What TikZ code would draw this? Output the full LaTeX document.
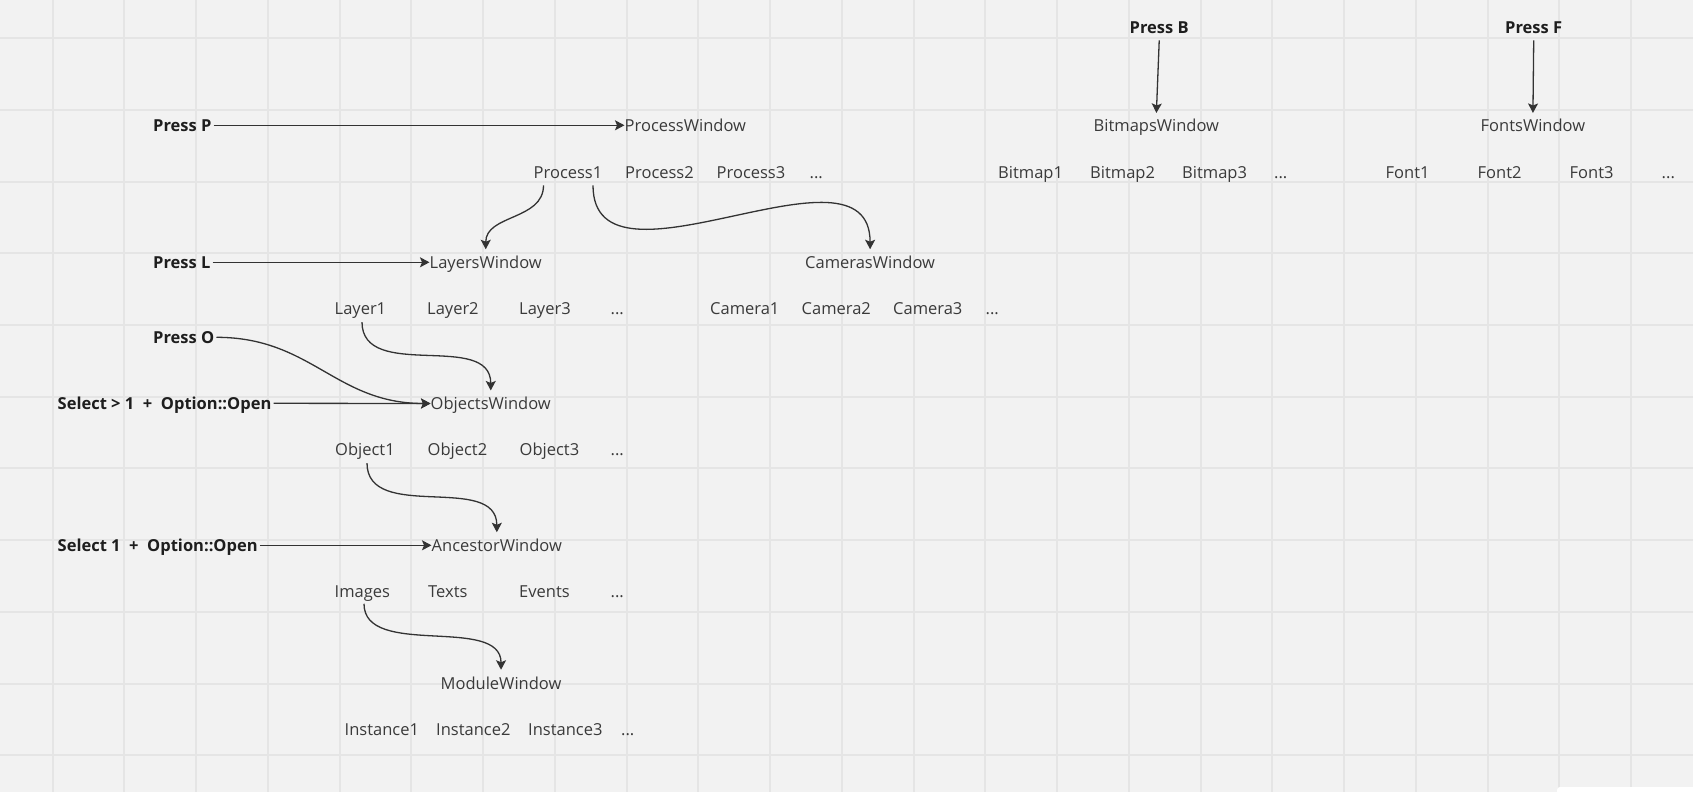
\documentclass[tikz,border=0pt]{standalone}
\usepackage{fontspec}
\setmainfont{Open Sans}
\usetikzlibrary{arrows.meta}
\definecolor{bg}{HTML}{F2F2F2}
\definecolor{gridc}{HTML}{E5E5E5}
\definecolor{txt}{HTML}{3A3A3A}
\definecolor{keytxt}{HTML}{1E1E1E}
\definecolor{linec}{HTML}{333333}
\tikzset{
  lbl/.style={inner sep=0pt, anchor=west, text height=11.7pt, text depth=0pt,
    font=\fontsize{16.5}{19}\selectfont, text=txt},
  keylbl/.style={lbl, font=\fontsize{16.5}{19}\selectfont\bfseries, text=keytxt},
  conn/.style={draw=linec, line width=1.3pt,
    -{Stealth[length=9.5pt,width=10pt,inset=2pt]}},
}
\begin{document}
\begin{tikzpicture}[x=1pt,y=-1pt]
\useasboundingbox (0,0) rectangle (1693,792);
\fill[bg] (0,0) rectangle (1693,792);
% grid
\foreach \k in {0,...,22} {
  \pgfmathsetmacro\gx{round(52.7+71.75*\k)}
  \draw[gridc, line width=2pt] (\gx,0) -- (\gx,792);
}
\foreach \k in {0,...,10} {
  \pgfmathsetmacro\gy{round(38.3+71.7*\k)}
  \draw[gridc, line width=2pt] (0,\gy) -- (1693,\gy);
}
\fill[white, rounded corners=3pt] (1557,787) rectangle (1700,800);

% keys
\node[keylbl] (pressP) at (153,125.3) {Press P};
\node[keylbl] (pressL) at (153,262.3) {Press L};
\node[keylbl] (pressO) at (153,337.3) {Press O};
\node[keylbl] (sel2) at (57.5,403.3) {Select > 1\ \ +\ \ Option::Open};
\node[keylbl] (sel1) at (57.5,545.3) {Select 1\ \ +\ \ Option::Open};
\node[keylbl] (pressB) at (1129.5,27.3) {Press B};
\node[keylbl] (pressF) at (1505,27.3) {Press F};

% windows
\node[lbl] (procW) at (624.5,125.3) {ProcessWindow};
\node[lbl] (bmpW) at (1093.5,126) {BitmapsWindow};
\node[lbl] (fontW) at (1480.5,126) {FontsWindow};
\node[lbl] (layW) at (429.5,262.3) {LayersWindow};
\node[lbl] (camW) at (805,262.3) {CamerasWindow};
\node[lbl] (objW) at (430.5,403.5) {ObjectsWindow};
\node[lbl] (ancW) at (431.5,545.3) {AncestorWindow};
\node[lbl] (modW) at (440.5,683.3) {ModuleWindow};

% items
\node[lbl] (p1) at (533.5,172.3) {Process1};
\node[lbl] (p2) at (625,172.3) {Process2};
\node[lbl] (p3) at (716.5,172.3) {Process3};
\node[lbl] (p4) at (809.5,172.3) {...};
\node[lbl] (b1) at (998,172.3) {Bitmap1};
\node[lbl] (b2) at (1090,172.3) {Bitmap2};
\node[lbl] (b3) at (1182,172.3) {Bitmap3};
\node[lbl] (b4) at (1274,172.3) {...};
\node[lbl] (f1) at (1385.5,172.3) {Font1};
\node[lbl] (f2) at (1477.5,172.3) {Font2};
\node[lbl] (f3) at (1569.5,172.3) {Font3};
\node[lbl] (f4) at (1661.5,172.3) {...};
\node[lbl] (l1) at (334.5,309) {Layer1};
\node[lbl] (l2) at (427,309) {Layer2};
\node[lbl] (l3) at (519,309) {Layer3};
\node[lbl] (l4) at (610.5,309) {...};
\node[lbl] (c1) at (710,308.3) {Camera1};
\node[lbl] (c2) at (801.5,308.3) {Camera2};
\node[lbl] (c3) at (893,308.3) {Camera3};
\node[lbl] (c4) at (985.5,308.3) {...};
\node[lbl] (o1) at (335,450) {Object1};
\node[lbl] (o2) at (427.5,450) {Object2};
\node[lbl] (o3) at (519.5,450) {Object3};
\node[lbl] (o4) at (610.5,450) {...};
\node[lbl] (i1) at (334.5,591.7) {Images};
\node[lbl] (i2) at (428,591.7) {Texts};
\node[lbl] (i3) at (519,591.7) {Events};
\node[lbl] (i4) at (610.5,591.7) {...};
\node[lbl] (n1) at (344.5,729.3) {Instance1};
\node[lbl] (n2) at (436,729.3) {Instance2};
\node[lbl] (n3) at (528,729.3) {Instance3};
\node[lbl] (n4) at (621,729.3) {...};

% connectors
\draw[conn] ([xshift=2pt]pressP.east) -- (procW.west);
\draw[conn] ([xshift=2pt]pressL.east) -- (layW.west);
\draw[conn] ([xshift=2pt]sel2.east) -- (objW.west);
\draw[conn] ([xshift=2pt]sel1.east) -- (ancW.west);
\draw[conn] ([xshift=2pt]pressO.east) .. controls +(95,0) and +(-95,0) .. (objW.west);
\draw[conn] ([yshift=-7pt]pressB.south) -- ([yshift=7pt]bmpW.north);
\draw[conn] ([yshift=-7pt]pressF.south) -- ([yshift=7pt]fontW.north);
\draw[conn] ([xshift=10pt,yshift=-7pt]p1.south west) .. controls +(0,35) and +(0,-35) .. ([yshift=7pt]layW.north);
\draw[conn] ([xshift=59.5pt,yshift=-7pt]p1.south west) .. controls +(0,120) and +(0,-120) .. ([yshift=7pt]camW.north);
\draw[conn] ([xshift=27.5pt,yshift=-7pt]l1.south west) .. controls +(0,60) and +(0,-60) .. ([yshift=7pt]objW.north);
\draw[conn] ([xshift=32pt,yshift=-7pt]o1.south west) .. controls +(0,60) and +(0,-60) .. ([yshift=7pt]ancW.north);
\draw[conn] ([xshift=29.5pt,yshift=-6pt]i1.south west) .. controls +(0,55) and +(0,-55) .. ([yshift=7.5pt]modW.north);
\end{tikzpicture}
\end{document}
